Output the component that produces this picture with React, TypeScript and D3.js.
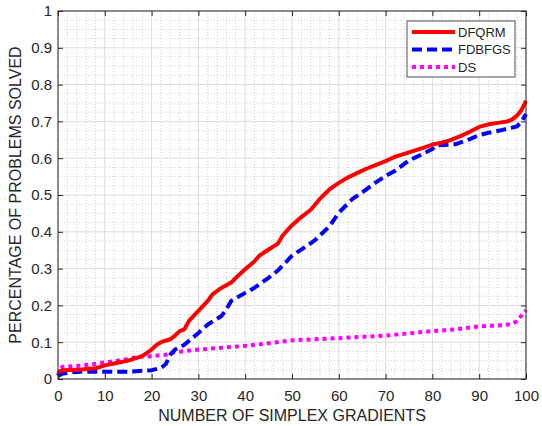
import * as d3 from 'd3';
import React, { useEffect, useRef } from 'react';

// axis ticks
const xTicks = [0, 10, 20, 30, 40, 50, 60, 70, 80, 90, 100];
const yTicks = [0, 0.1, 0.2, 0.3, 0.4, 0.5, 0.6, 0.7, 0.8, 0.9, 1];
const yTickLabels = ['0', '0.1', '0.2', '0.3', '0.4', '0.5', '0.6', '0.7', '0.8', '0.9', '1'];

// DFQRM (red, solid)
const dfqrmX = [0, 1, 5, 8, 10, 12, 15, 17, 18, 20, 21, 22, 24, 25, 26, 27, 28, 30, 32, 33, 35, 37, 38, 40, 42, 43, 45, 47, 48, 50, 52, 54, 55, 56, 58, 60, 62, 64, 66, 68, 70, 72, 74, 76, 78, 80, 82, 84, 86, 88, 90, 92, 94, 96, 97, 98, 99, 100];
const dfqrmY = [0.018, 0.024, 0.026, 0.029, 0.037, 0.042, 0.05, 0.058, 0.062, 0.08, 0.092, 0.1, 0.108, 0.118, 0.13, 0.135, 0.158, 0.185, 0.212, 0.23, 0.248, 0.262, 0.275, 0.298, 0.32, 0.335, 0.352, 0.368, 0.39, 0.418, 0.44, 0.46, 0.475, 0.49, 0.515, 0.533, 0.548, 0.56, 0.572, 0.582, 0.592, 0.604, 0.612, 0.62, 0.628, 0.637, 0.642, 0.65, 0.66, 0.672, 0.685, 0.692, 0.696, 0.7, 0.705, 0.715, 0.73, 0.756];

// FDBFGS (blue, dashed)
const fdbfgsX = [0, 1, 3, 5, 10, 15, 20, 22, 23, 24, 25, 27, 30, 32, 35, 36, 37, 40, 42, 45, 47, 50, 53, 55, 58, 60, 63, 65, 68, 70, 72, 75, 78, 80, 81, 85, 88, 90, 92, 95, 98, 99, 100];
const fdbfgsY = [0.008, 0.015, 0.018, 0.02, 0.02, 0.02, 0.024, 0.03, 0.04, 0.066, 0.08, 0.093, 0.125, 0.148, 0.172, 0.19, 0.212, 0.234, 0.248, 0.275, 0.295, 0.335, 0.36, 0.378, 0.415, 0.452, 0.49, 0.507, 0.535, 0.552, 0.566, 0.594, 0.612, 0.625, 0.635, 0.638, 0.652, 0.663, 0.669, 0.677, 0.686, 0.698, 0.72];

// DS (magenta, dotted)
const dsX = [0, 0.5, 1, 5, 10, 14, 17, 20, 23, 25, 30, 35, 40, 45, 50, 60, 70, 80, 85, 90, 95, 97, 98, 99, 100];
const dsY = [0.01, 0.03, 0.033, 0.036, 0.045, 0.052, 0.06, 0.062, 0.066, 0.073, 0.08, 0.085, 0.09, 0.097, 0.105, 0.111, 0.118, 0.13, 0.135, 0.143, 0.146, 0.15, 0.157, 0.172, 0.187];

const seriesNames = ['DFQRM', 'FDBFGS', 'DS'];
const seriesColors = ['#ff0000', '#0000ff', '#ff00ff'];
const seriesDash = [null, '10,5', '4,4'];

const FONT = '"Liberation Sans", Arial, sans-serif';
const AXIS = '#262626';

export default function App() {
  const ref = useRef<SVGSVGElement>(null);

  useEffect(() => {
    const svg = d3.select(ref.current);
    svg.selectAll('*').remove();

    const margin = { top: 11, right: 16, bottom: 47, left: 58 };
    const width = 542 - margin.left - margin.right;
    const height = 426 - margin.top - margin.bottom;

    const x = d3.scaleLinear().domain([0, 100]).range([0, width]);
    const y = d3.scaleLinear().domain([0, 1]).range([height, 0]);

    const g = svg.append('g').attr('transform', `translate(${margin.left},${margin.top})`);

    g.append('rect').attr('width', width).attr('height', height).attr('fill', '#fff');

    // minor grid (dotted)
    const minorX = d3.range(0, 101, 2).filter(v => v % 10 !== 0);
    const minorY = d3.range(0, 40).map(i => i * 0.025).filter((v, i) => i % 4 !== 0);
    g.selectAll('.mgx').data(minorX).enter().append('line')
      .attr('x1', d => x(d)).attr('x2', d => x(d)).attr('y1', 0).attr('y2', height)
      .attr('stroke', '#c4c4c4').attr('stroke-width', 0.8).attr('stroke-dasharray', '1,2');
    g.selectAll('.mgy').data(minorY).enter().append('line')
      .attr('y1', d => y(d)).attr('y2', d => y(d)).attr('x1', 0).attr('x2', width)
      .attr('stroke', '#c4c4c4').attr('stroke-width', 0.8).attr('stroke-dasharray', '1,2');

    // major grid
    g.selectAll('.gx').data(xTicks).enter().append('line')
      .attr('x1', d => x(d)).attr('x2', d => x(d)).attr('y1', 0).attr('y2', height)
      .attr('stroke', '#dcdcdc').attr('stroke-width', 1);
    g.selectAll('.gy').data(yTicks).enter().append('line')
      .attr('y1', d => y(d)).attr('y2', d => y(d)).attr('x1', 0).attr('x2', width)
      .attr('stroke', '#dcdcdc').attr('stroke-width', 1);

    // curves
    const xs = [dfqrmX, fdbfgsX, dsX];
    const ys = [dfqrmY, fdbfgsY, dsY];
    const line = d3.line<[number, number]>()
      .x(d => x(d[0]))
      .y(d => y(d[1]));
    [2, 1, 0].forEach(i => {
      const pts = xs[i].map((v, j) => [v, ys[i][j]] as [number, number]);
      const p = g.append('path').datum(pts)
        .attr('fill', 'none')
        .attr('stroke', seriesColors[i])
        .attr('stroke-width', 4)
        .attr('stroke-linejoin', 'round')
        .attr('d', line);
      if (seriesDash[i]) p.attr('stroke-dasharray', seriesDash[i]);
    });

    // axes box with ticks inward on all sides
    const axisStyle = (sel: any) => {
      sel.select('.domain').remove();
      sel.selectAll('line').attr('stroke', AXIS);
      sel.selectAll('text').attr('fill', AXIS).style('font-family', FONT).style('font-size', '15px');
    };
    g.append('g').attr('transform', `translate(0,${height})`)
      .call(d3.axisBottom(x).tickValues(xTicks).tickSizeInner(-5).tickSizeOuter(0).tickPadding(11))
      .call(axisStyle);
    g.append('g')
      .call(d3.axisTop(x).tickValues(xTicks).tickSizeInner(-5).tickSizeOuter(0).tickFormat(() => ''))
      .call(axisStyle);
    g.append('g')
      .call(d3.axisLeft(y).tickValues(yTicks).tickSizeInner(-5).tickSizeOuter(0).tickPadding(6)
        .tickFormat((d, i) => yTickLabels[i]))
      .call(axisStyle);
    g.append('g').attr('transform', `translate(${width},0)`)
      .call(d3.axisRight(y).tickValues(yTicks).tickSizeInner(-5).tickSizeOuter(0).tickFormat(() => ''))
      .call(axisStyle);
    g.append('rect').attr('width', width).attr('height', height)
      .attr('fill', 'none').attr('stroke', AXIS).attr('stroke-width', 1);

    // axis labels
    g.append('text')
      .attr('x', width / 2).attr('y', height + 42)
      .attr('text-anchor', 'middle')
      .attr('fill', AXIS)
      .style('font-family', FONT).style('font-size', '16px')
      .text('NUMBER OF SIMPLEX GRADIENTS');
    g.append('text')
      .attr('transform', `translate(${-37},${height / 2}) rotate(-90)`)
      .attr('text-anchor', 'middle')
      .attr('fill', AXIS)
      .style('font-family', FONT).style('font-size', '16px')
      .text('PERCENTAGE OF PROBLEMS SOLVED');

    // legend
    const lg = g.append('g').attr('transform', `translate(${407 - margin.left},${21 - margin.top})`);
    lg.append('rect').attr('width', 108).attr('height', 56)
      .attr('fill', '#fff').attr('stroke', AXIS).attr('stroke-width', 0.8);
    seriesNames.forEach((name, i) => {
      const ly = 11 + i * 17.5;
      const l = lg.append('line')
        .attr('x1', 5).attr('x2', 48).attr('y1', ly).attr('y2', ly)
        .attr('stroke', seriesColors[i]).attr('stroke-width', 4);
      if (seriesDash[i]) l.attr('stroke-dasharray', seriesDash[i]);
      lg.append('text')
        .attr('x', 51).attr('y', ly).attr('dy', '0.35em')
        .attr('fill', AXIS)
        .style('font-family', FONT).style('font-size', '13px')
        .text(name);
    });
  }, []);

  return (
    <svg ref={ref} width={542} height={426}
      style={{ position: 'absolute', left: 0, top: 0, background: '#fff' }} />
  );
}
